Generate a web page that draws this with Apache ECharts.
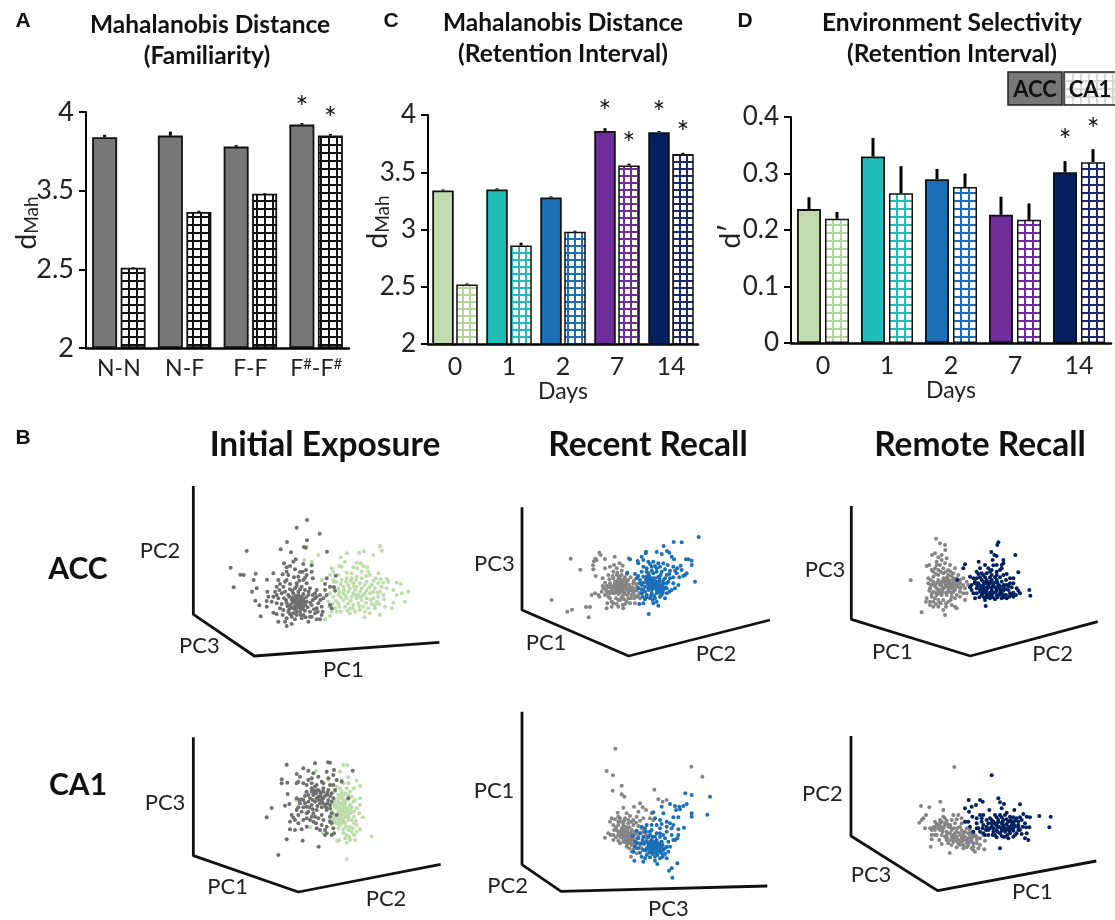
<!DOCTYPE html>
<html><head><meta charset="utf-8">
<style>html,body{margin:0;padding:0;background:#fff}#c{width:1115px;height:920px}</style>
<script src="https://cdn.jsdelivr.net/npm/echarts@6/dist/echarts.min.js"></script>
</head><body><div id="c"></div>
<script>
// ---------- bar data ----------
const catsA = ['N-N','N-F','F-F','F{s|#}-F{s|#}'];
const ticksA = ['2','2.5','3.5','4'];
const accA = [3.84,3.85,3.78,3.92];
const ca1A = [2.52,3.23,3.46,3.85];
const accAErr = [3.855,3.875,3.79,3.93];
const ca1AErr = [2.53,3.245,3.47,3.86];
const starsA = [[3,0,4.06],[3,1,3.99]];

const days = ['0','1','2','7','14'];
const dayColors = ['#c0dcae','#22bdb9','#1b6fb7','#6f2c9b','#03215f'];
const dayHatch = ['#b2d69a','#22bdb9','#1b6fb7','#6f2c9b','#1d2a6e'];
const accC = [3.34,3.35,3.28,3.86,3.85];
const ca1C = [2.52,2.86,2.98,3.56,3.66];
const accCErr = [3.35,3.36,3.29,3.885,3.86];
const ca1CErr = [2.53,2.885,2.99,3.575,3.67];
const starsC = [[3,0,4.08],[3,1,3.80],[4,0,4.07],[4,1,3.89]];

const accD = [0.237,0.33,0.29,0.227,0.302];
const ca1D = [0.22,0.265,0.276,0.218,0.32];
const accDErr = [0.258,0.363,0.308,0.259,0.322];
const ca1DErr = [0.232,0.313,0.30,0.247,0.343];
const starsD = [[4,0,0.368],[4,1,0.387]];

// ---------- scatter data (projected PC coordinates) ----------
const p1Gray=[[531,120],[500,143],[569,161],[471,186],[531,181],[522,201],[527,203],[350,213],[452,208],[483,217],[591,215],[302,263],[331,284],[341,285],[377,281],[311,322],[371,300],[411,299],[430,280],[380,325],[366,335],[376,362],[388,376],[392,409],[412,335],[415,350],[410,363],[462,250],[470,262],[490,245],[497,238],[480,258],[520,252],[545,256],[528,270],[518,275],[545,275],[530,285],[548,295],[505,290],[492,292],[475,285],[458,283],[445,300],[465,305],[480,312],[500,310],[520,300],[530,310],[515,320],[495,325],[480,328],[460,320],[440,320],[435,335],[455,340],[475,345],[490,340],[505,335],[525,330],[540,325],[555,340],[570,345],[585,330],[590,295],[617,287],[600,320],[612,322],[615,332],[585,312],[580,355],[565,370],[575,380],[560,385],[545,375],[530,365],[515,360],[500,355],[485,360],[470,368],[455,372],[445,355],[425,365],[410,380],[430,398],[440,402],[460,390],[475,395],[490,385],[505,375],[520,380],[510,368],[500,370],[495,378],[512,385],[525,392],[540,395],[555,400],[575,405],[600,375],[605,385],[570,418],[560,418],[545,410],[535,425],[515,415],[500,405],[485,410],[470,415],[445,425],[465,425],[485,432],[470,438],[510,395],[500,395],[490,400],[520,405],[505,345],[515,350],[520,358],[508,362],[498,365],[528,352],[535,345],[480,375],[488,368],[478,388],[462,355],[548,360],[555,355],[560,330],
[505,352],[512,358],[494,362],[503,383],[516,372],[522,366],[489,352],[498,348],[507,368],[513,378],[519,388],[526,375],[533,382],[541,368],[495,388],[483,382],[472,378],[468,360],[478,350],[487,332],[510,328],[520,342],[536,335],[548,345],[560,350],[571,360],[552,388],[563,395],[540,410],[527,412],[512,405],[495,418],[480,402],[458,405],[450,385],[440,370],[430,350],[448,330],[465,335],[500,318],[508,302],[470,300],[450,312],[525,293],[510,276],[495,268],[470,275],[440,345],[590,345],[578,395]];
const p1Green=[[530,200],[565,225],[523,240],[545,245],[650,220],[632,232],[688,218],[702,214],[730,225],[750,198],[755,212],[645,245],[628,258],[605,265],[610,275],[600,285],[625,285],[635,260],[680,248],[692,250],[670,262],[682,265],[700,258],[712,262],[715,275],[695,275],[720,285],[745,280],[738,295],[752,298],[770,296],[775,305],[800,308],[812,312],[835,335],[825,365],[815,340],[790,368],[785,385],[765,380],[750,405],[720,400],[703,412],[690,390],[675,395],[660,400],[632,395],[620,395],[600,408],[585,418],[605,395],[625,370],[640,360],[655,370],[670,375],[685,370],[700,380],[715,385],[735,385],[740,365],[730,355],[745,350],[760,345],[770,325],[755,320],[745,310],[725,315],[710,305],[695,295],[680,290],[665,295],[650,295],[635,300],[620,305],[610,320],[625,325],[640,320],[655,315],[670,310],[680,320],[695,325],[710,330],[720,340],[700,345],[685,345],[670,340],[655,335],[640,340],[625,345],[610,350],[595,365],[600,340],[665,350],[680,355],[695,360],[710,355],[650,355],[660,325],[675,330],[690,310],[730,335],[735,375],[600,380],[615,385],[645,380],[660,385],[550,295],[575,300],[585,350],
[612,305],[632,312],[648,305],[662,303],[678,300],[704,315],[718,322],[735,325],[750,335],[762,358],[748,372],[725,372],[708,368],[692,350],[677,345],[662,362],[647,347],[632,352],[618,362],[608,372],[628,380],[652,392],[668,385],[688,378],[705,395],[722,360],[742,338],[705,340],[690,335],[672,320],[642,330],[628,335],[650,278],[665,280],[708,288],[730,302],[760,308],[790,330],[800,345],[610,300]];
const p2Gray=[[302,176],[331,209],[245,300],[292,335],[306,329],[348,321],[360,321],[356,352],[388,158],[392,165],[376,176],[380,180],[372,184],[405,177],[434,170],[369,196],[370,208],[377,228],[405,205],[420,200],[432,195],[449,190],[458,197],[476,175],[440,205],[430,215],[415,225],[398,235],[440,225],[455,225],[465,232],[475,240],[490,250],[500,258],[430,235],[445,238],[460,245],[470,250],[480,262],[490,275],[505,285],[420,250],[435,250],[450,255],[465,262],[475,272],[485,285],[410,258],[400,265],[425,265],[440,265],[455,272],[465,282],[475,295],[395,275],[415,275],[430,280],[445,282],[455,292],[470,305],[365,285],[385,285],[375,280],[388,290],[420,295],[430,310],[445,300],[412,310],[410,325],[425,320],[445,320],[460,325],[480,310],[495,310],[500,290],[510,295],[458,315],[435,245],[450,240],[445,250],[455,260],[440,258],[430,258],[460,255],[470,268],[445,272],[435,272],[450,228],[462,240],[478,255],[415,290],[405,285],
[448,232],[458,240],[468,242],[452,248],[442,245],[436,255],[448,262],[458,268],[468,258],[478,265],[488,262],[495,270],[485,272],[475,280],[462,275],[452,266],[442,252],[432,262],[422,258],[415,262],[408,270],[425,272],[438,278],[450,278],[460,285],[472,285],[482,295],[492,285],[500,272],[505,265],[492,295],[450,300],[438,295],[425,305],[440,312],[462,298],[420,280],[410,278],[398,258],[405,248],[418,238],[428,228],[442,218],[455,212],[470,222],[482,232],[492,242],[500,252],[510,278],[465,312]];
const p2Blue=[[686,111],[611,126],[635,127],[581,138],[528,155],[560,156],[575,162],[591,153],[598,158],[605,170],[612,178],[648,178],[665,182],[655,178],[665,195],[632,197],[527,160],[515,170],[480,178],[503,183],[520,180],[535,185],[550,185],[565,190],[580,190],[593,195],[610,200],[622,205],[600,212],[645,225],[650,220],[640,228],[675,245],[620,220],[610,250],[625,255],[605,270],[615,265],[600,235],[590,225],[575,215],[560,205],[545,200],[530,205],[515,215],[505,190],[495,222],[472,218],[500,235],[510,240],[520,230],[535,220],[550,220],[565,230],[580,240],[590,250],[575,255],[560,245],[545,240],[530,245],[515,255],[505,265],[520,270],[535,265],[550,260],[565,265],[580,270],[590,280],[575,285],[560,280],[545,280],[530,285],[515,280],[525,298],[540,295],[555,295],[570,290],[585,295],[520,310],[550,310],[565,317],[536,342],[508,312],[540,250],[550,250],[560,255],[570,245],[555,235],[540,235],[545,270],[560,270],[535,255],[550,240],[565,255],[525,260],[575,270],[580,250],[568,235],[530,230],
[535,240],[545,245],[555,250],[565,245],[548,235],[538,228],[528,238],[520,248],[532,250],[542,258],[552,265],[562,262],[572,260],[578,262],[568,270],[555,258],[545,262],[535,270],[525,275],[515,268],[518,290],[530,292],[542,288],[552,288],[562,275],[570,278],[585,262],[590,265],[595,245],[585,235],[572,225],[560,215],[545,212],[530,215],[520,200],[540,192],[555,198],[570,200],[585,208],[598,222],[610,232],[628,232],[615,212],[635,210],[548,300],[560,305],[578,278],[598,275],[510,250],[505,228]];
const p3Gray=[[408,116],[420,130],[435,135],[436,150],[405,160],[396,165],[388,195],[380,198],[410,185],[425,180],[440,175],[332,241],[405,205],[420,195],[435,190],[450,195],[465,205],[400,215],[415,210],[430,205],[445,210],[460,220],[475,225],[490,235],[385,235],[400,230],[415,225],[430,220],[445,225],[460,235],[480,250],[500,245],[385,250],[400,245],[415,240],[430,235],[445,240],[460,250],[475,260],[495,265],[390,265],[405,258],[420,255],[435,250],[450,255],[465,262],[480,275],[500,280],[400,275],[415,270],[430,265],[445,270],[460,275],[470,285],[495,300],[380,295],[378,305],[395,290],[410,285],[425,285],[440,285],[455,290],[390,315],[400,305],[415,300],[430,300],[445,305],[465,320],[470,325],[365,337],[400,320],[415,320],[430,330],[435,345],[455,315],[445,260],[455,265],[440,245],[450,242],[425,245],[435,262],[445,252],[465,270],[455,280],[420,270],[405,295],
[440,235],[450,250],[460,240],[470,245],[480,240],[470,235],[455,228],[442,232],[432,242],[422,250],[412,248],[405,252],[395,255],[410,265],[425,258],[438,256],[448,260],[458,258],[470,255],[482,262],[490,255],[448,275],[438,278],[428,275],[418,280],[408,278],[395,282],[388,272],[392,240],[408,222],[422,215],[438,215],[452,215],[410,195],[395,210],[425,165],[415,172],[390,305],[408,312],[422,310],[438,310],[452,300],[465,295],[480,290],[392,255],[480,265],[505,255],[490,280],[438,320],[420,308]];
const p3Navy=[[595,127],[592,135],[574,156],[583,165],[590,168],[646,165],[578,180],[610,180],[610,190],[536,185],[555,195],[580,196],[590,195],[605,195],[495,193],[490,205],[540,205],[565,205],[575,210],[600,210],[655,217],[510,230],[520,235],[535,222],[545,220],[560,220],[575,225],[590,225],[610,225],[630,235],[640,235],[472,240],[510,262],[515,270],[530,235],[545,240],[560,240],[575,240],[590,240],[605,245],[620,255],[640,250],[650,265],[660,280],[688,270],[691,287],[535,250],[550,255],[565,255],[580,255],[595,255],[610,262],[625,270],[635,285],[520,280],[530,265],[545,265],[560,270],[575,270],[590,270],[605,275],[618,285],[525,295],[545,285],[560,285],[575,285],[590,285],[605,295],[620,295],[640,290],[555,300],[570,295],[585,298],[557,318],[565,262],[570,278],[580,278],[555,275],[595,262],[585,262],[550,270],[540,275],[600,285],[610,285],[570,250],[560,250],[630,280],
[550,245],[560,248],[570,245],[582,248],[592,248],[600,258],[612,255],[625,258],[635,262],[618,268],[610,272],[600,268],[588,275],[575,262],[562,262],[552,262],[542,258],[532,258],[525,250],[540,268],[548,280],[558,278],[568,285],[578,292],[592,292],[612,292],[628,290],[640,278],[655,272],[648,285],[630,250],[618,240],[600,232],[585,232],[570,232],[555,232],[540,232],[525,245],[515,255],[530,280],[538,292],[552,292],[600,278],[562,292],[550,225],[570,215],[590,215],[620,222],[605,205],[530,215]];
const p4Gray=[[470,134],[555,130],[594,127],[600,128],[520,145],[535,152],[500,162],[550,160],[590,155],[612,150],[668,152],[455,178],[455,190],[472,188],[510,170],[505,185],[520,190],[535,180],[565,170],[575,185],[595,175],[610,165],[635,185],[620,180],[473,222],[465,257],[478,252],[425,264],[410,292],[500,235],[508,240],[515,238],[530,215],[545,205],[555,200],[565,210],[580,205],[595,210],[605,220],[610,235],[595,240],[580,235],[565,230],[550,225],[540,235],[555,245],[570,250],[585,255],[600,255],[545,255],[530,260],[520,262],[535,275],[550,280],[505,285],[490,293],[505,310],[480,305],[495,330],[480,328],[515,328],[470,358],[518,362],[445,405],[566,380],[560,325],[575,315],[590,320],[610,325],[605,345],[590,340],[550,305],[565,295],[580,300],[600,290],[605,310],[558,220],[572,222],[590,225],[545,215],[655,235],[610,195],[545,190],[520,240],[530,280],[575,285],[560,270],[540,300],[500,270],[590,270],[575,240],
[548,210],[558,212],[570,215],[580,215],[592,218],[600,228],[585,228],[572,230],[560,235],[548,240],[535,245],[525,250],[535,225],[525,228],[550,215],[565,240],[578,248],[592,250],[605,245],[600,265],[588,262],[575,262],[562,258],[548,268],[538,262],[510,250],[505,262],[515,275],[495,300],[520,300],[530,295],[545,290],[558,310],[570,330],[585,330],[600,305],[612,340],[545,175],[530,195],[560,195],[580,190],[600,195],[615,210],[500,190],[485,285],[555,290],[605,280],[620,285],[530,320],[585,345]];
const p4Green=[[640,135],[652,135],[558,152],[630,155],[655,172],[680,182],[690,197],[650,205],[640,190],[620,200],[635,215],[625,225],[690,235],[640,240],[630,250],[615,240],[645,260],[660,255],[670,245],[680,265],[665,275],[650,280],[635,270],[620,265],[610,280],[625,290],[640,295],[655,300],[672,290],[698,292],[688,280],[600,290],[615,305],[630,315],[645,310],[660,320],[672,310],[690,328],[665,335],[650,345],[640,340],[658,350],[672,345],[725,350],[675,360],[650,368],[628,360],[622,363],[578,338],[540,322],[650,418],[525,218],[498,240],[595,180],[660,215],[615,255],[630,260],[640,275],[650,265],[625,275],[610,295],[635,300],[620,310],[635,285],[650,290],[605,270],[625,235],[640,225],[655,240],[635,235],[660,280],
[625,245],[635,250],[645,250],[655,265],[665,262],[630,265],[620,255],[612,248],[640,265],[650,272],[660,270],[672,275],[645,285],[630,280],[615,285],[605,285],[618,295],[628,300],[642,305],[655,290],[665,300],[678,302],[625,305],[635,310],[648,320],[640,328],[655,330],[668,325],[680,315],[625,325],[632,225],[645,220],[655,225],[665,230],[675,240],[690,255],[615,215],[630,205],[608,305],[600,300],[640,255],[648,240],[635,295],[612,258],[680,335],[660,360],[645,355],[635,180],[655,190],[672,205]];
const p5Gray=[[436,146],[410,213],[429,226],[664,200],[697,230],[428,272],[455,257],[553,269],[455,283],[463,290],[565,298],[578,305],[590,300],[460,323],[492,320],[510,310],[518,322],[528,330],[443,338],[470,340],[505,335],[425,355],[435,358],[450,355],[465,355],[490,360],[510,362],[550,360],[430,375],[445,375],[460,370],[475,370],[490,375],[440,390],[455,385],[470,385],[485,390],[500,395],[515,385],[415,400],[430,405],[445,405],[460,400],[475,400],[490,405],[505,410],[520,425],[405,413],[430,420],[445,422],[460,415],[475,415],[490,420],[505,430],[470,430],[485,435],[495,440],[478,445],[530,415],[545,450],[515,445],[500,460],[483,470],[465,410],[470,395],[480,405],[465,425],[455,405],[482,422],[475,430],[460,390],[450,395],[545,340],[530,395],
[460,378],[468,380],[478,382],[455,395],[462,405],[470,408],[478,410],[485,398],[492,395],[498,402],[468,418],[476,422],[483,428],[490,432],[498,425],[460,425],[452,412],[445,395],[438,382],[450,365],[462,362],[475,360],[485,365],[498,368],[505,378],[512,400],[520,395],[510,435],[500,445],[490,448],[432,390],[422,405],[438,412],[450,430],[470,440],[485,455],[528,405],[465,395],[473,392],[480,415],[488,412],[500,415],[458,385],[445,365],[420,365],[540,355],[520,355],[500,350],[445,350],[480,348]];
const p5Blue=[[646,280],[665,285],[720,290],[650,312],[640,318],[628,320],[615,318],[600,312],[575,320],[618,330],[630,328],[665,340],[665,350],[712,344],[550,337],[580,340],[610,352],[625,352],[590,365],[600,370],[570,360],[555,355],[642,383],[625,388],[610,375],[530,375],[545,375],[515,380],[500,392],[525,395],[545,390],[570,385],[590,395],[605,405],[622,415],[615,420],[595,425],[580,405],[560,400],[540,405],[520,410],[505,415],[488,408],[530,425],[545,420],[560,420],[575,425],[590,440],[595,455],[580,450],[565,440],[550,435],[535,440],[520,450],[505,445],[490,455],[515,470],[530,465],[545,455],[560,450],[575,460],[590,475],[570,475],[555,470],[520,485],[493,482],[562,492],[622,490],[605,505],[597,512],[607,533],[548,440],[555,445],[565,430],[545,445],[555,430],[570,445],[540,450],[560,440],[550,450],[575,440],[540,430],
[540,425],[550,425],[558,428],[568,432],[578,435],[585,445],[575,450],[568,455],[558,458],[548,462],[538,458],[528,452],[535,432],[545,435],[552,440],[560,445],[568,438],[542,440],[548,455],[555,438],[530,445],[522,432],[512,430],[500,430],[495,440],[510,458],[525,475],[540,472],[555,482],[578,470],[585,462],[600,440],[610,420],[625,405],[585,415],[570,410],[555,410],[540,395],[525,385],[570,400],[590,380],[605,385],[560,375],[575,372],[510,400],[495,425],[518,420],[535,412],[548,410],[562,465]];
const p6Gray=[[463,141],[421,245],[363,258],[430,270],[388,262],[378,285],[370,295],[358,308],[365,300],[375,325],[390,325],[405,305],[420,300],[435,295],[460,285],[475,285],[485,295],[498,305],[395,345],[395,358],[392,380],[405,330],[420,320],[435,310],[450,315],[465,310],[480,320],[510,330],[410,345],[425,345],[440,335],[455,330],[470,335],[490,340],[510,345],[525,345],[550,345],[425,372],[440,360],[455,350],[470,350],[485,355],[500,360],[515,355],[530,360],[445,370],[460,365],[475,370],[490,375],[505,375],[520,370],[540,375],[470,382],[490,385],[520,390],[525,395],[553,388],[449,399],[515,385],[430,325],[445,320],[460,345],[475,360],[490,360],[510,365],[435,350],[420,330],[405,320],[415,315],
[420,310],[432,318],[442,312],[452,322],[462,325],[472,325],[485,330],[495,335],[505,340],[515,340],[520,350],[505,355],[495,350],[480,345],[465,340],[450,340],[440,345],[428,335],[415,325],[400,322],[410,312],[425,305],[440,302],[430,290],[455,300],[470,298],[485,310],[500,325],[530,350],[540,355],[530,370],[515,365],[500,368],[485,365],[470,362],[460,355],[450,360],[440,352],[455,375],[480,375],[500,382],[520,380],[535,385],[405,345],[418,360],[395,330],[555,362],[478,340],[465,352],[490,350]];
const p6Navy=[[575,166],[506,240],[540,240],[548,245],[595,235],[600,247],[612,252],[495,265],[515,260],[528,255],[507,275],[568,270],[605,265],[643,270],[660,253],[670,282],[718,288],[752,290],[748,322],[690,292],[680,290],[517,290],[505,305],[495,305],[510,320],[520,335],[530,310],[545,295],[550,285],[570,295],[585,285],[600,285],[615,285],[630,290],[650,295],[665,300],[535,325],[550,315],[565,310],[580,305],[595,300],[610,300],[625,305],[640,310],[655,315],[675,310],[665,342],[680,340],[685,360],[675,355],[550,340],[565,330],[580,325],[595,320],[610,315],[625,320],[640,325],[655,330],[585,345],[600,340],[615,335],[630,340],[645,345],[600,385],[625,355],[610,350],[590,330],[605,325],[620,312],[635,315],[575,320],[560,320],[590,310],[605,310],[615,325],[630,330],
[590,318],[600,322],[612,322],[622,328],[632,322],[645,318],[655,322],[640,332],[628,335],[615,330],[605,332],[592,335],[580,335],[570,325],[558,330],[548,325],[575,310],[585,312],[595,305],[608,305],[620,298],[632,300],[645,302],[655,305],[668,320],[678,322],[660,330],[640,350],[622,345],[605,348],[590,352],[578,345],[565,345],[540,335],[530,325],[545,305],[560,300],[575,300],[590,292],[605,292],[620,278],[640,292],[688,322],[660,292],[540,285],[530,295],[555,345],[615,350],[650,340],[635,305]];

// 3D frame lines of each scatter
const p1Frame=[[190,18],[190,403],[373,528],[928,487]];
const p2Frame=[[156,22],[156,330],[476,468],[900,360]];
const p3Frame=[[154,18],[154,358],[511,468],[893,365]];
const p4Frame=[[190,52],[190,407],[505,516],[932,433]];
const p5Frame=[[156,35],[156,494],[273,574],[892,558]];
const p6Frame=[[153,48],[153,348],[413,512],[889,423]];

const FONT='Lato';
const GRAY='#777777';
function hatch(color,cell,lw){
  const c=document.createElement('canvas');c.width=cell;c.height=cell;
  const x=c.getContext('2d');x.fillStyle='#fff';x.fillRect(0,0,cell,cell);
  x.fillStyle=color;x.fillRect(0,0,lw,cell);x.fillRect(0,0,cell,lw);
  return {image:c,repeat:'repeat'};
}
// panel A's tick labels are evenly spaced: map a value to its position between ticks
const tickNumsA=ticksA.map(Number);
function posA(v){
  for(let i=0;i<3;i++){ if(v<=tickNumsA[i+1]||i===2) return i+(v-tickNumsA[i])/(tickNumsA[i+1]-tickNumsA[i]); }
}
const grids=[],xAxes=[],yAxes=[],series=[],graphics=[];

function addBars(o){
  const g=grids.length;
  grids.push({left:o.left,top:o.top,width:o.width,height:o.height});
  xAxes.push({type:'category',gridIndex:g,data:o.cats,
    name:o.xName||'',nameLocation:'middle',nameGap:36,nameTextStyle:{fontFamily:FONT,fontSize:23,color:'#222'},
    axisTick:{show:false},axisLine:{lineStyle:{color:'#000',width:2.5}},
    axisLabel:{interval:0,margin:o.xMargin,fontFamily:FONT,fontSize:o.xFont,color:'#222',
      rich:{s:{fontFamily:FONT,fontSize:15,color:'#222',verticalAlign:'top',padding:[0,0,8,0]}}}});
  yAxes.push({type:'value',gridIndex:g,min:o.min,max:o.max,interval:o.interval,
    splitLine:{show:false},
    axisLine:{show:true,lineStyle:{color:'#000',width:2}},
    axisTick:{show:true,length:o.tick,lineStyle:{color:'#000',width:2}},
    axisLabel:{margin:o.yMargin,fontFamily:FONT,fontSize:o.yFont,color:'#222',formatter:o.yFmt}});
  const mk=(vals,style)=>vals.map((v,i)=>({value:o.map(v),itemStyle:style(i)}));
  const base={type:'bar',xAxisIndex:g,yAxisIndex:g,barWidth:o.bw,barGap:(o.gap/o.bw*100)+'%',silent:true};
  series.push({...base,name:'ACC',data:mk(o.acc,o.accStyle)});
  series.push({...base,name:'CA1',data:mk(o.ca1,o.ca1Style)});
  const off=(o.bw+o.gap)/2;
  const err=(tops,vals,dx)=>({type:'custom',xAxisIndex:g,yAxisIndex:g,silent:true,z:1,
    data:tops.map((t,i)=>[i,o.map(t),o.map(vals[i])]),encode:{x:0,y:1},
    renderItem:(p,api)=>{
      const a=api.coord([api.value(0),api.value(1)]),b=api.coord([api.value(0),api.value(2)]);
      return {type:'line',shape:{x1:a[0]+dx,y1:a[1],x2:a[0]+dx,y2:b[1]},style:{stroke:'#000',lineWidth:o.errW}};
    }});
  series.push(err(o.accErr,o.acc,-off));
  series.push(err(o.ca1Err,o.ca1,off));
  series.push({type:'custom',xAxisIndex:g,yAxisIndex:g,silent:true,z:3,
    data:o.stars.map(s=>[s[0],o.map(s[2]),s[1]]),encode:{x:0,y:1},
    renderItem:(p,api)=>{
      const a=api.coord([api.value(0),api.value(1)]);
      return {type:'text',style:{x:a[0]+(api.value(2)?off:-off),y:a[1]+6,text:'*',fontFamily:FONT,fontSize:30,fill:'#111',align:'center',verticalAlign:'middle'}};
    }});
}
const black={color:GRAY,borderColor:'#111',borderWidth:1.8};
const blackHatch=hatch('#111',8,2);
addBars({left:86,top:112,width:263,height:236,cats:catsA,acc:accA,ca1:ca1A,accErr:accAErr,ca1Err:ca1AErr,stars:starsA,
  min:0,max:3,interval:1,map:posA,yFmt:v=>ticksA[v],tick:7,yMargin:12,yFont:27,xFont:23,xMargin:9,
  bw:25,gap:3.5,errW:3,accStyle:()=>black,ca1Style:()=>({color:blackHatch,borderColor:'#111',borderWidth:1.8})});
addBars({left:428,top:115,width:270,height:229,cats:days,acc:accC,ca1:ca1C,accErr:accCErr,ca1Err:ca1CErr,stars:starsC,xName:'Days',
  min:2,max:4,interval:0.5,map:v=>v,yFmt:v=>String(v),tick:7,yMargin:12,yFont:26,xFont:25,xMargin:10,
  bw:21.5,gap:2.5,errW:3,
  accStyle:i=>({color:dayColors[i],borderColor:'#111',borderWidth:1.8}),
  ca1Style:i=>({color:hatch(dayHatch[i],7,2),borderColor:'#111',borderWidth:1.5})});
addBars({left:791,top:117,width:320,height:226,cats:days,acc:accD,ca1:ca1D,accErr:accDErr,ca1Err:ca1DErr,stars:starsD,xName:'Days',
  min:0,max:0.4,interval:0.1,map:v=>v,yFmt:v=>String(v),tick:7,yMargin:12,yFont:26,xFont:25,xMargin:10,
  bw:24,gap:4,errW:3,
  accStyle:i=>({color:dayColors[i],borderColor:'#111',borderWidth:1.8}),
  ca1Style:i=>({color:hatch(dayHatch[i],8,2),borderColor:'#111',borderWidth:1.5})});

function txt(s,x,y,size,bold,font){
  return {type:'text',x:x,y:y,style:{text:s,fontFamily:font||FONT,fontSize:size,fontWeight:bold?'bold':'normal',fill:bold?'#111':'#222',align:'center',verticalAlign:'middle'}};
}
function yTitle(s,x,y){
  return {type:'text',x:x,y:y,rotation:Math.PI/2,style:{text:s,fontFamily:FONT,fontSize:28,fill:'#222',align:'center',verticalAlign:'middle',
    rich:{d:{fontFamily:FONT,fontSize:28,fill:'#222'},s:{fontFamily:FONT,fontSize:19,fill:'#222',verticalAlign:'bottom',padding:[8,0,0,0]}}}};
}
function addScatter(o){
  const g=grids.length;
  grids.push({left:o.x,top:o.y,width:o.w/3,height:o.h/3});
  xAxes.push({type:'value',gridIndex:g,min:0,max:o.w,show:false});
  yAxes.push({type:'value',gridIndex:g,min:0,max:o.h,inverse:true,show:false});
  const sc=(d,c)=>({type:'scatter',xAxisIndex:g,yAxisIndex:g,data:d,symbolSize:4,silent:true,itemStyle:{color:c,opacity:1}});
  series.push({type:'line',xAxisIndex:g,yAxisIndex:g,data:o.frame,showSymbol:false,silent:true,lineStyle:{color:'#111',width:2.8}});
  o.layers.forEach(l=>series.push(sc(l[0],l[1])));
  o.labels.forEach(l=>graphics.push(txt(l[0],o.x+l[1]/3,o.y+l[2]/3,22,false)));
}
const G1='#6f6f6f',G2='#858585',GREEN='#bcdcaa',BLUE='#1b6fb7',NAVY='#03215f';
addScatter({x:130,y:480,w:960,h:600,frame:p1Frame,layers:[[p1Green,GREEN],[p1Gray,G1]],labels:[['PC2',90,212],['PC3',208,498],['PC1',640,570]]});
addScatter({x:470,y:500,w:960,h:540,frame:p2Frame,layers:[[p2Gray,G2],[p2Blue,BLUE]],labels:[['PC3',73,192],['PC1',228,430],['PC2',738,463]]});
addScatter({x:800,y:500,w:945,h:540,frame:p3Frame,layers:[[p3Gray,G2],[p3Navy,NAVY]],labels:[['PC3',75,210],['PC1',277,455],['PC2',758,463]]});
addScatter({x:130,y:720,w:960,h:600,frame:p4Frame,layers:[[p4Green,GREEN],[p4Gray,G1]],labels:[['PC3',105,248],['PC1',293,502],['PC2',768,538]]});
addScatter({x:470,y:700,w:960,h:660,frame:p5Frame,layers:[[p5Gray,G2],[p5Blue,BLUE]],labels:[['PC1',72,272],['PC2',113,557],['PC3',595,628]]});
addScatter({x:800,y:720,w:945,h:600,frame:p6Frame,layers:[[p6Gray,G2],[p6Navy,NAVY]],labels:[['PC2',67,222],['PC3',213,465],['PC1',697,515]]});

const ARIAL='Liberation Sans';
graphics.push(
  yTitle('{d|d}{s|Mah}',27,223),yTitle('{d|d}{s|Mah}',378,222),yTitle('d′',731,236),
  txt('A',23,21,21,true,ARIAL),txt('C',391,21,21,true,ARIAL),txt('D',745,21,21,true,ARIAL),txt('B',23,438,21,true,ARIAL),
  txt('Mahalanobis Distance',210,25,24.5,true),txt('(Familiarity)',207,56,24.5,true),
  txt('Mahalanobis Distance',563,23,24.5,true),txt('(Retention Interval)',563,54,24.5,true),
  txt('Environment Selectivity',952,23,24.5,true),txt('(Retention Interval)',952,54,24.5,true),
  txt('Initial Exposure',325,445,33.5,true),txt('Recent Recall',648,445,33.5,true),txt('Remote Recall',980,445,33.5,true),
  txt('ACC',78,569,30,true),txt('CA1',78,785,30,true),
  {type:'rect',shape:{x:1008,y:72,width:54,height:33},style:{fill:GRAY,stroke:'#222',lineWidth:1.5}},
  {type:'rect',shape:{x:1064,y:72,width:56,height:33},style:{fill:hatch('#d8d8d8',8,2),stroke:'#222',lineWidth:1.5}},
  txt('ACC',1035,90,22,true),txt('CA1',1090,90,22,true)
);

const chart=echarts.init(document.getElementById('c'),null,{renderer:'canvas'});
chart.setOption({animation:false,backgroundColor:'#fff',tooltip:{show:false},
  grid:grids,xAxis:xAxes,yAxis:yAxes,series:series,graphic:{elements:graphics}});
</script></body></html>
